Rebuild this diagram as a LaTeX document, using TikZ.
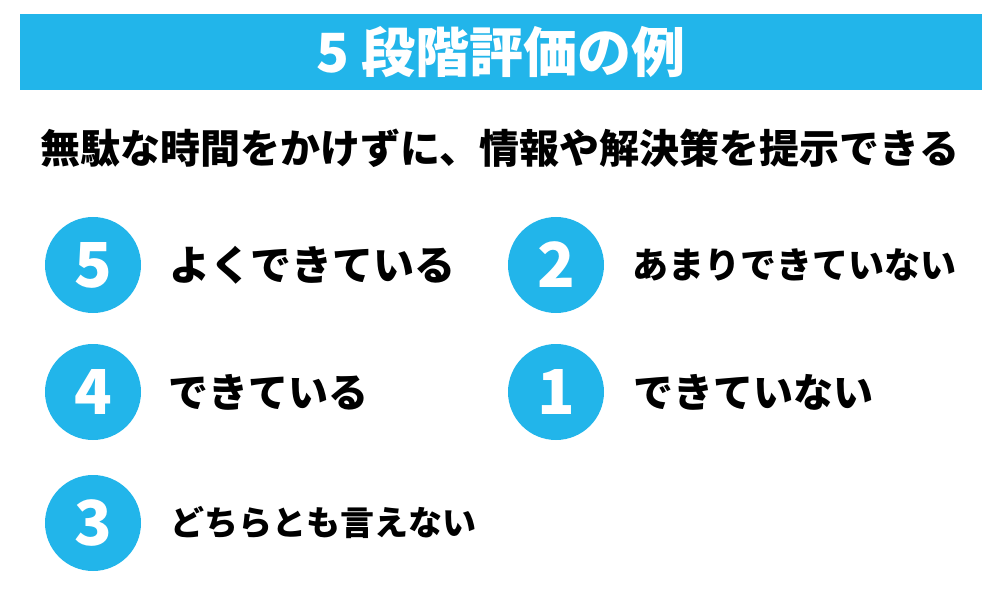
\documentclass[tikz,border=0pt]{standalone}
\usepackage{fontspec}
\usepackage{xcolor}
\usepackage{tikz}
\usetikzlibrary{positioning}
\newfontfamily\jpfont{Noto Sans CJK JP}
\definecolor{scblue}{HTML}{22B5EA}
\newcommand\fsz[1]{\fontsize{#1bp}{#1bp}\selectfont}
\tikzset{
  banner/.style={rectangle, fill=scblue, minimum width=962bp, minimum height=76bp, inner sep=0pt},
  headtxt/.style={text=white, inner sep=0pt, font=\jpfont\bfseries\fsz{54}},
  lead/.style={text=black, inner sep=0pt, font=\jpfont\bfseries\fsz{40}},
  score/.style={circle, fill=scblue, minimum size=96bp, inner sep=0pt, text=white,
                font=\jpfont\bfseries\fsz{62}},
  item/.style={text=black, inner sep=0pt, font=\jpfont\bfseries\fsz{40}},
}
\begin{document}
\begin{tikzpicture}[x=1bp, y=-1bp]
  \useasboundingbox (0,0) rectangle (1000,590);
  \node[banner]  (band) at (501,52)  {};
  \node[headtxt] (head) at (band.center) {5 段階評価の例};
  \node[lead]    (sub)  at (500,148) {無駄な時間をかけずに、情報や解決策を提示できる};
  % left column
  \node[score] (s5) at (93,265) {5};
  \node[score] (s4) at (93,392) {4};
  \node[score] (s3) at (93,523) {3};
  \node[item, font=\jpfont\bfseries\fsz{41}, right=28bp of s5] (t5) {よくできている};
  \node[item, right=27bp of s4] (t4) {できている};
  \node[item, font=\jpfont\bfseries\fsz{34}, right=29bp of s3] (t3) {どちらとも言えない};
  % right column
  \node[score] (s2) at (556,265) {2};
  \node[score] (s1) at (556,392) {1};
  \node[item, font=\jpfont\bfseries\fsz{36}, right=28bp of s2] (t2) {あまりできていない};
  \node[item, right=29bp of s1] (t1) {できていない};
\end{tikzpicture}
\end{document}
